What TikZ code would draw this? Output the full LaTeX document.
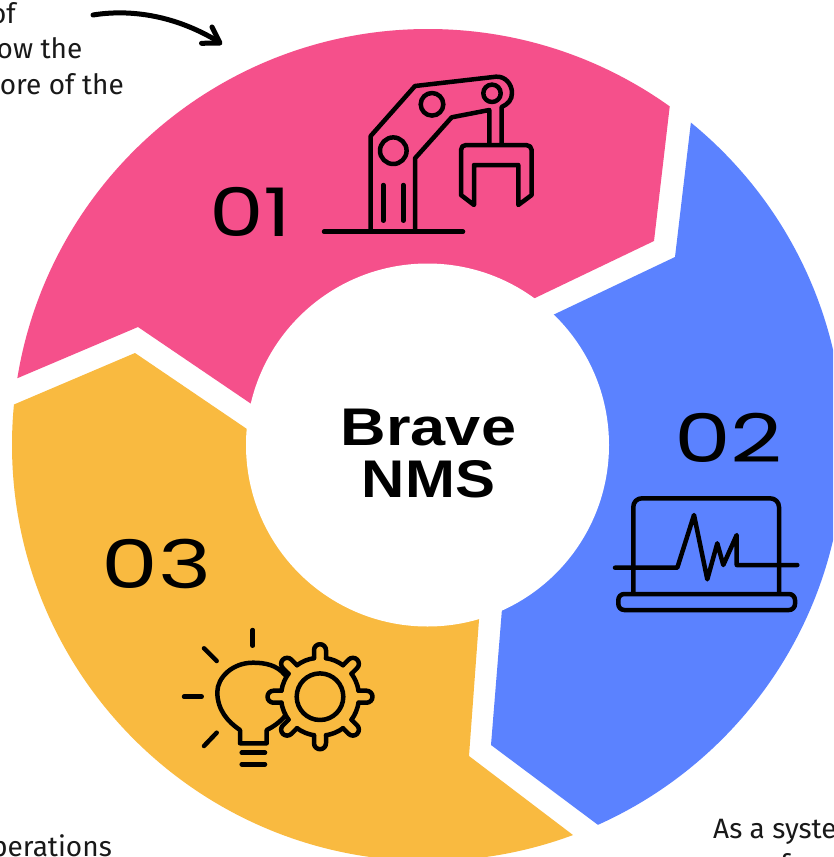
\documentclass[tikz,border=0pt]{standalone}
\usepackage{graphicx}
\usepackage{fontspec}
\setmainfont{Fira Sans}
\newfontfamily\digitfont{Poppins}
\newfontfamily\titlefont{Liberation Sans}[BoldFont={Liberation Sans Bold}]
\definecolor{petalpink}{HTML}{F5508B}
\definecolor{petalblue}{HTML}{5B82FF}
\definecolor{petalyellow}{HTML}{F9BA40}
\tikzset{
  icon/.style={draw=black,line width=4.5pt,line cap=round,line join=round},
  digit/.style={inner sep=0pt,anchor=base,font=\digitfont\fontsize{67}{67}\selectfont},
  title/.style={inner sep=0pt,anchor=base,font=\titlefont\bfseries\fontsize{53}{53}\selectfont},
  caption/.style={inner sep=0pt,font=\fontsize{28}{28}\selectfont,text=black!90}
}
\begin{document}
\begin{tikzpicture}[x=1pt,y=-1pt]
\useasboundingbox (0,0) rectangle (833,857);
\clip (0,0) rectangle (833,857);
\fill[white] (0,0) rectangle (833,857);
% petals
\begin{scope}
\clip (428,445) circle[radius=416pt];
\fill[petalpink] (138,327) -- (-100,428) -- (-100,-100) -- (688,-50) -- (654,241) -- (535,298) -- (470,329) -- (428,445) -- (300,437) -- cycle;
\fill[petalblue] (675,257) -- (703,20) -- (950,20) -- (950,950) -- (700,901) -- (491,745) -- (510,510) -- (500,340) -- (555,314) -- cycle;
\fill[petalyellow] (135,353) -- (-100,453) -- (-100,1000) -- (700,1000) -- (698,930) -- (469,756) -- (490,470) -- (300,465) -- cycle;
\end{scope}
\node[circle,fill=white,minimum size=363pt,inner sep=0pt] (hub) at (427.5,445) {};
% centre title
\node[title] (brave) at (428.5,445) {\scalebox{1.19}[1]{Brave}};
\node[title] (nms) at (428.5,497) {\scalebox{1.13}[1]{NMS}};
% digits
\node[digit] (d1) at (250.5,236) {\scalebox{1.3}[1]{01}};
\node[digit] (d2) at (728.5,462) {\scalebox{1.35}[1]{02}};
\node[digit] (d3) at (156.5,588) {\scalebox{1.35}[1]{03}};
% cropped captions
\node[caption,anchor=base east] (c1) at (16,23) {of};
\node[caption,anchor=base east] (c2) at (82.5,58) {ow the};
\node[caption,anchor=base east] (c3) at (124,94) {ore of the};
\node[caption,anchor=base east] (c4) at (112,856) {perations};
\node[caption,anchor=base west] (c5) at (713,838) {As a syste};
\node[caption,anchor=base west] (c6) at (780,874) {f};
% curved arrow
\coordinate (arrA) at (93,15);
\coordinate (arrB) at (219,42);
\draw[line width=5pt,line cap=round] (arrA) .. controls (130,9) and (175,15) .. (arrB);
\draw[line width=5pt,line cap=round,line join=round] (201.5,43.3) -- (220,43) -- (212,27);
% robot arm
\draw[icon] (324,231.7) -- (463,231.7);
\draw[icon] (370.7,231) -- (370.7,136) -- (415,86) -- (496,76.7) .. controls (505,76) and (512,84) .. (512,93) .. controls (512,100) and (508,104) .. (501.7,107) -- (501.7,143);
\draw[icon] (489.3,143) -- (489.3,110) -- (451.7,117.3) -- (415,158.3) -- (415,231);
\draw[icon] (393.3,150.7) circle[radius=13.3pt];
\draw[icon] (432,104.3) circle[radius=11.3pt];
\draw[icon] (492,93.3) circle[radius=8.7pt];
\draw[icon] (383.3,185) -- (383.3,220.7);
\draw[icon] (403.3,185) -- (403.3,220.7);
\draw[icon] (461,150) .. controls (461,147) and (463,145) .. (466,145) -- (526,145) .. controls (529,145) and (531.7,147) .. (531.7,150) -- (531.7,195) -- (518.3,205) -- (518.3,165) -- (474,165) -- (474,205) -- (461,195) -- cycle;
% laptop
\draw[icon] (633.3,593) -- (633.3,507) .. controls (633.3,502) and (637,498.3) .. (642,498.3) -- (770,498.3) .. controls (775,498.3) and (779,502) .. (779,507) -- (779,593);
\draw[icon,rounded corners=6pt] (618.3,594) rectangle (795,610);
\draw[icon] (615,567.7) -- (677.3,567.7) -- (694,515) -- (707.3,579.3) -- (717.3,543.3) -- (723.3,565) -- (736.7,535) -- (736.7,565) -- (797.3,565);
% bulb and gear
\draw[icon] (252.7,630) -- (252.7,645.7);
\draw[icon] (204,648.3) -- (216.7,661);
\draw[icon] (184,696.7) -- (201.7,696.7);
\draw[icon] (204,746) -- (216.7,732.7);
\draw[icon] (285,675) .. controls (277,665) and (265,662.7) .. (253,662.7) .. controls (232,662.7) and (217.3,678) .. (217.3,692) .. controls (217.3,710) and (228,722) .. (240,730) -- (240,743.3) -- (266.7,743.3) -- (266.7,730) .. controls (273,727) and (280,722) .. (285,716);
\draw[icon] (241.7,752.7) -- (265,752.7);
\draw[icon] (241.7,764.3) -- (265,764.3);
\draw[icon] (320,696.7) circle[radius=23.3pt];
\foreach \a in {0,45,...,315}{
  \begin{scope}[shift={(320,696.7)},x=1pt,y=1pt,rotate=\a]
    \draw[icon] (38.5,-6) -- (46.5,-6) arc[start angle=-90,end angle=90,radius=6pt] -- (38.5,6);
    \draw[icon] (8.85:39pt) arc[start angle=8.85,end angle=36.15,radius=39pt];
  \end{scope}
}
\end{tikzpicture}
\end{document}
